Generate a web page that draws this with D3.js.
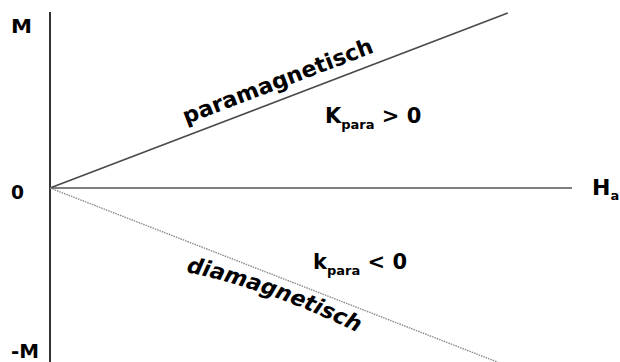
<!DOCTYPE html>
<html>
<head>
<meta charset="utf-8">
<script src="https://cdn.jsdelivr.net/npm/d3@7"></script>
<style>
  html, body { margin: 0; padding: 0; background: #ffffff; }
  svg { display: block; font-family: "DejaVu Sans", sans-serif; font-weight: bold; }
</style>
</head>
<body>
<div id="chart"></div>
<script>
"use strict";

// field strength Ha (relative) and magnetisation M (relative)
const paraH = [0, 0.877];
const paraM = [0, 0.994];
const diaH = [0, 0.858];
const diaM = [0, -0.99];

const yTickValues = [1, 0, -1];
const yTickLabels = ["M", "0", "-M"];

(function drawChart() {
  const width = 620;
  const height = 362;

  const x = d3.scaleLinear().domain([0, 1]).range([50, 572]);
  const y = d3.scaleLinear().domain([-1, 1]).range([364, 12]);

  const svg = d3
    .select("#chart")
    .append("svg")
    .attr("width", width)
    .attr("height", height)
    .attr("viewBox", `0 0 ${width} ${height}`);

  // axes
  svg
    .append("line")
    .attr("x1", x(0))
    .attr("x2", x(0))
    .attr("y1", y(1))
    .attr("y2", height)
    .attr("stroke", "#333")
    .attr("stroke-width", 2);

  svg
    .append("line")
    .attr("x1", x(0))
    .attr("x2", x(1))
    .attr("y1", y(0))
    .attr("y2", y(0))
    .attr("stroke", "#555")
    .attr("stroke-width", 1.6);

  // tick labels, baseline offsets + widths tuned per label
  const labelOffset = { M: 21, 0: 11, "-M": -6 };
  const labelWidth = { M: 21, 0: 13, "-M": 28 };
  svg
    .selectAll("text.ytick")
    .data(yTickValues)
    .join("text")
    .attr("class", "ytick")
    .attr("x", 11)
    .attr("y", (v, i) => y(v) + labelOffset[yTickLabels[i]])
    .attr("font-size", 20)
    .attr("textLength", (v, i) => labelWidth[yTickLabels[i]])
    .attr("lengthAdjust", "spacingAndGlyphs")
    .attr("fill", "#000")
    .text((v, i) => yTickLabels[i]);

  const hLabel = svg
    .append("text")
    .attr("x", 592)
    .attr("y", y(0) + 7)
    .attr("font-size", 22)
    .attr("fill", "#000");
  hLabel.append("tspan").text("H");
  hLabel.append("tspan").attr("font-size", 13).attr("dy", 5).text("a");

  // lines
  const line = d3
    .line()
    .x((d) => x(d[0]))
    .y((d) => y(d[1]));

  svg
    .append("path")
    .attr("d", line(d3.zip(paraH, paraM)))
    .attr("fill", "none")
    .attr("stroke", "#4a4a4a")
    .attr("stroke-width", 1.6);

  svg
    .append("path")
    .attr("d", line(d3.zip(diaH, diaM)))
    .attr("fill", "none")
    .attr("stroke", "#8a8a8a")
    .attr("stroke-width", 1.4)
    .attr("stroke-dasharray", "1.5,1");

  // "paramagnetisch" along the upper line
  const px0 = x(paraH[0]);
  const py0 = y(paraM[0]);
  const angle = Math.atan2(y(paraM[1]) - py0, x(paraH[1]) - px0);
  const startX = 190;
  const startY = py0 + (startX - px0) * Math.tan(angle);
  const off = 11;
  const bx = startX + off * Math.sin(angle);
  const by = startY - off * Math.cos(angle);
  svg
    .append("text")
    .attr("transform", `translate(${bx},${by}) rotate(${(angle * 180) / Math.PI})`)
    .attr("font-size", 22)
    .attr("textLength", 202)
    .attr("lengthAdjust", "spacingAndGlyphs")
    .attr("fill", "#000")
    .text("paramagnetisch");

  // "diamagnetisch" on a slight arc under the lower line
  svg
    .append("path")
    .attr("id", "diaArc")
    .attr("d", "M186,272 Q275,290 376,342")
    .attr("fill", "none");

  svg
    .append("text")
    .attr("font-size", 22)
    .attr("font-style", "italic")
    .attr("fill", "#000")
    .append("textPath")
    .attr("href", "#diaArc")
    .text("diamagnetisch");

  // susceptibility notes
  const kPos = svg
    .append("text")
    .attr("x", 325)
    .attr("y", 123)
    .attr("font-size", 21)
    .attr("fill", "#000");
  kPos.append("tspan").text("K");
  kPos.append("tspan").attr("font-size", 13).attr("dy", 6).text("para");
  kPos.append("tspan").attr("dy", -6).text(" > 0");

  const kNeg = svg
    .append("text")
    .attr("x", 313)
    .attr("y", 269)
    .attr("font-size", 21)
    .attr("fill", "#000");
  kNeg.append("tspan").text("k");
  kNeg.append("tspan").attr("font-size", 13).attr("dy", 6).text("para");
  kNeg.append("tspan").attr("dy", -6).text(" < 0");
})();
</script>
</body>
</html>
